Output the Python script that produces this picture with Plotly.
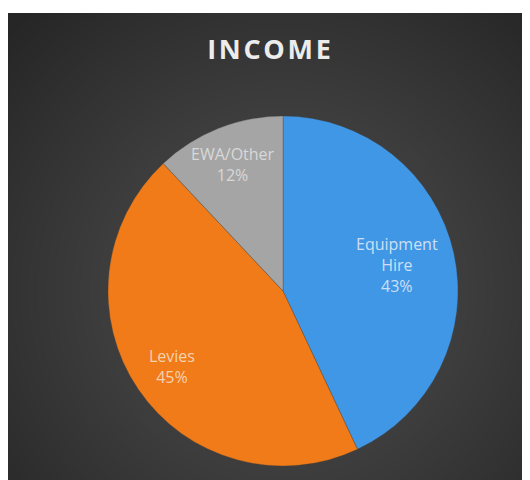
import base64
import struct
import zlib

import numpy as np
import plotly.graph_objects as go

# ---- data ----
categories = ["Equipment<br>Hire", "Levies", "EWA/Other"]
values = [43, 45, 12]
slice_colors = ["#4097e6", "#f07b18", "#a5a5a5"]
text_colors = ["rgba(232,238,246,0.85)", "rgba(246,226,206,0.85)", "rgba(226,226,226,0.85)"]
title_text = "INCOME"

# page body adds an 8px margin; figure sized to fill the rest of the window
W, H = 522, 472
px0, py0 = 0, 5            # dark panel origin (figure pixels)
cx, cy, R = 275, 283, 175  # pie centre / radius (figure pixels)
label_r = [0.67, 0.77, 0.78]  # label radial position as fraction of R


def radial_png(w, h, gx, gy, inner, outer, r_max):
    yy, xx = np.mgrid[0:h, 0:w]
    d = np.sqrt((xx - gx) ** 2 + (yy - gy) ** 2) / r_max
    d = np.clip(d, 0, 1)
    g = (inner + (outer - inner) * d ** 1.1).astype(np.uint8)
    raw = b"".join(b"\x00" + g[i].tobytes() for i in range(h))

    def chunk(tag, data):
        c = struct.pack(">I", len(data)) + tag + data
        return c + struct.pack(">I", zlib.crc32(tag + data) & 0xFFFFFFFF)

    png = b"\x89PNG\r\n\x1a\n"
    png += chunk(b"IHDR", struct.pack(">IIBBBBB", w, h, 8, 0, 0, 0, 0))
    png += chunk(b"IDAT", zlib.compress(raw, 9))
    png += chunk(b"IEND", b"")
    return "data:image/png;base64," + base64.b64encode(png).decode()


pw, ph = W - px0, H - py0
bg = radial_png(pw, ph, cx - px0, cy - py0, 80, 38, 380)

fig = go.Figure(
    go.Pie(
        labels=categories,
        values=values,
        sort=False,
        direction="clockwise",
        rotation=0,
        marker=dict(colors=slice_colors, line=dict(color="rgba(60,60,60,0.5)", width=0.6)),
        textinfo="none",
        showlegend=False,
        hoverinfo="label+percent",
        domain=dict(x=[(cx - R) / W, (cx + R) / W], y=[1 - (cy + R) / H, 1 - (cy - R) / H]),
    )
)

# labels placed along each slice's bisector, computed from the values
total = float(sum(values))
start = 0.0
annotations = []
for lab, v, col, fr in zip(categories, values, text_colors, label_r):
    mid = (start + v / 2.0) / total * 2 * np.pi
    start += v
    lx = cx + R * fr * np.sin(mid)
    ly = cy - R * fr * np.cos(mid)
    annotations.append(
        dict(
            text=f"{lab}<br>{round(v / total * 100):.0f}%",
            x=lx / W,
            y=1 - ly / H,
            xref="paper",
            yref="paper",
            showarrow=False,
            xanchor="center",
            yanchor="middle",
            align="center",
            font=dict(family="Open Sans", size=16, color=col),
        )
    )

fig.update_layout(
    width=W,
    height=H,
    margin=dict(l=0, r=0, t=0, b=0),
    paper_bgcolor="white",
    plot_bgcolor="white",
    annotations=annotations,
    images=[
        dict(
            source=bg,
            xref="paper",
            yref="paper",
            x=px0 / W,
            y=1 - py0 / H,
            sizex=pw / W,
            sizey=ph / H,
            xanchor="left",
            yanchor="top",
            sizing="stretch",
            layer="below",
        )
    ],
    title=dict(
        text="<b>" + "\u200a".join(title_text) + "</b>",
        x=261 / W,
        xanchor="center",
        y=1 - 42 / H,
        yanchor="middle",
        font=dict(family="Open Sans", size=27, color="#ececec"),
    ),
)

fig.write_html("out.html")
